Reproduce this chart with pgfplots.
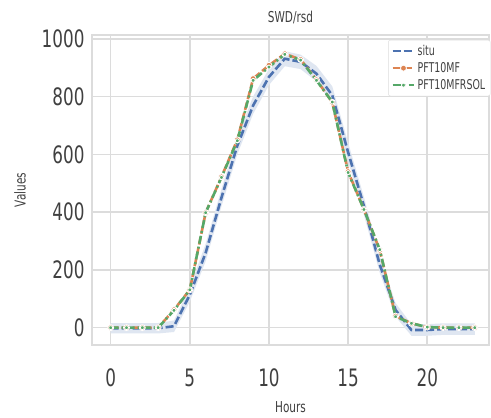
\documentclass[border=0pt]{standalone}
\usepackage{fontspec}
\setmainfont{DejaVu Sans}[FakeStretch=0.7]
\usepackage{pgfplots}
\pgfplotsset{compat=1.18}
\definecolor{sblue}{HTML}{4C72B0}
\definecolor{sorange}{HTML}{DD8452}
\definecolor{sgreen}{HTML}{55A868}
\definecolor{gridc}{HTML}{DCDCDC}
\begin{document}
\begin{tikzpicture}
\begin{axis}[
  scale only axis, width=397pt, height=310pt,
  xmin=-1.18, xmax=23.9, ymin=-60, ymax=1013,
  xtick={0,5,10,15,20}, ytick={0,200,400,600,800,1000},
  /pgf/number format/assume math mode=true,
  /pgf/number format/set thousands separator={},
  tick label style={font=\fontsize{24}{24}\selectfont, text=black!75},
  xticklabel style={yshift=-20pt},
  yticklabel style={xshift=-4pt},
  major tick length=0pt,
  grid=major, grid style={gridc, line width=1.6pt},
  axis line style={gridc, line width=1.6pt},
  axis background/.style={fill=white},
  clip=false,
  legend style={at={(0.746,0.984)}, anchor=north west, draw=gridc, fill=white, rounded corners=2pt,
    font=\fontsize{13.5}{13.5}\selectfont, text=black!75, row sep=1.5pt, inner sep=3pt},
  legend cell align=left,
  legend image code/.code={\draw[mark repeat=2,mark phase=2,#1] plot coordinates {(0cm,0cm) (0.38cm,0cm) (0.76cm,0cm)};},
]
% confidence band around situ
\addplot[draw=none, fill=sblue!18, forget plot] coordinates {
(0,-20)(1,-20)(2,-20)(3,-20)(4,-15)(5,90)(6,230)(7,420)(8,600)(9,740)(10,840)(11,905)(12,895)(13,852)(14,775)(15,575)(16,390)(17,190)(18,38)(19,-28)(20,-28)(21,-25)(22,-25)(23,-25)
(23,15)(22,15)(21,15)(20,12)(19,12)(18,85)(17,248)(16,452)(15,640)(14,835)(13,906)(12,945)(11,957)(10,896)(9,800)(8,660)(7,480)(6,290)(5,140)(4,25)(3,16)(2,16)(1,16)(0,16)
} \closedcycle;
\addplot[sblue, line width=2.6pt, dash pattern=on 8pt off 3pt] coordinates {
(0,-2)(1,-2)(2,-2)(3,-2)(4,5)(5,114)(6,259)(7,450)(8,630)(9,769)(10,868)(11,931)(12,920)(13,879)(14,804)(15,607)(16,421)(17,218)(18,61)(19,-8)(20,-8)(21,-5)(22,-5)(23,-5)
};
\addlegendentry{situ}
\addplot[sorange, line width=2.6pt, dash pattern=on 8pt off 3pt, mark=*, mark size=3pt,
  mark options={solid, fill=sorange, draw=white, line width=0.8pt}] coordinates {
(0,0)(1,0)(2,0)(3,0)(4,62)(5,131)(6,398)(7,522)(8,650)(9,862)(10,908)(11,948)(12,928)(13,858)(14,780)(15,540)(16,409)(17,268)(18,40)(19,15)(20,2)(21,0)(22,0)(23,0)
};
\addlegendentry{PFT10MF}
\addplot[sgreen, line width=2.6pt, dash pattern=on 8pt off 3pt on 2pt off 3pt, mark=*, mark size=2pt,
  mark options={solid, fill=sgreen, draw=white, line width=0.8pt}] coordinates {
(0,0)(1,0)(2,0)(3,0)(4,60)(5,131)(6,398)(7,520)(8,647)(9,856)(10,902)(11,946)(12,926)(13,856)(14,781)(15,537)(16,409)(17,270)(18,38)(19,15)(20,2)(21,0)(22,0)(23,0)
};
\addlegendentry{PFT10MFRSOL}
\node[font=\fontsize{15}{15}\selectfont, text=black!75] at (rel axis cs:0.5,1.055) {SWD/rsd};
\node[font=\fontsize{15}{15}\selectfont, text=black!75] at (rel axis cs:0.5,-0.2) {Hours};
\node[font=\fontsize{15}{15}\selectfont, text=black!75, rotate=90] at (rel axis cs:-0.181,0.5) {Values};
\end{axis}
\pgfresetboundingbox
\useasboundingbox (current axis.south west)++(-92pt,-73pt) rectangle ([shift={(2pt,35pt)}]current axis.north east);
\end{tikzpicture}
\end{document}
